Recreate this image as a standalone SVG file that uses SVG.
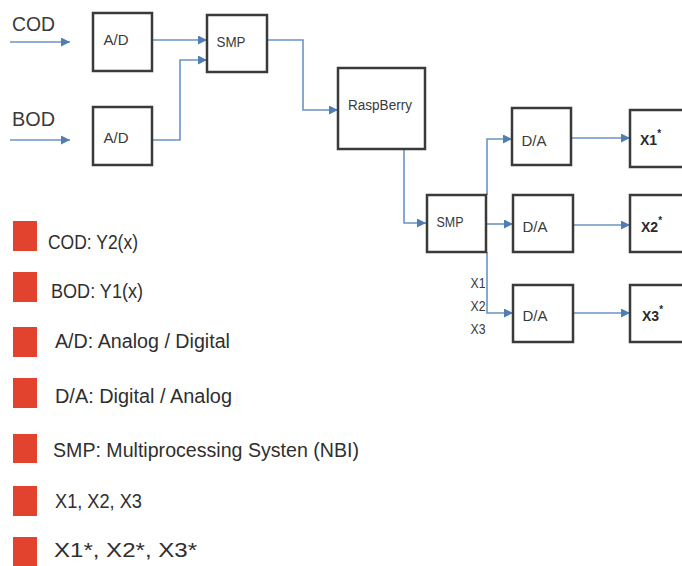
<svg xmlns="http://www.w3.org/2000/svg" width="682" height="566" viewBox="0 0 682 566">
<defs>
<marker id="ah" viewBox="0 0 10 10" refX="10" refY="5" markerWidth="9" markerHeight="9" markerUnits="userSpaceOnUse" orient="auto">
<path d="M0,0 L10,5 L0,10 z" fill="#4f7db4"/>
</marker>
<style>
.box{fill:#fff;stroke:#3a3a3a;stroke-width:2.5}
.lbl{font-family:"Liberation Sans",Arial,sans-serif;font-size:14px;fill:#3a3a3a;text-anchor:middle;dominant-baseline:central}
.xl{font-family:"Liberation Sans",Arial,sans-serif;font-size:14px;font-weight:bold;fill:#2a2a2a;dominant-baseline:central}
.in{font-family:"Liberation Sans",Arial,sans-serif;font-size:20px;fill:#3a3a3a}
.leg{font-family:"Liberation Sans",Arial,sans-serif;font-size:20px;fill:#2f2f2f}
.sq{fill:#e2432f}
.con{fill:none;stroke:#6a93c4;stroke-width:1.6;marker-end:url(#ah)}
.sm{font-family:"Liberation Sans",Arial,sans-serif;font-size:14px;fill:#3a3a3a;text-anchor:middle;dominant-baseline:central}
</style>
</defs>
<rect width="682" height="566" fill="#fff"/>

<g id="inputs">
<text class="in" x="12" y="31" textLength="43" lengthAdjust="spacingAndGlyphs">COD</text>
<text class="in" x="12" y="126" textLength="43" lengthAdjust="spacingAndGlyphs">BOD</text>
</g>

<g id="connectors">
<path class="con" d="M10,42 H70"/>
<path class="con" d="M10,140 H70"/>
<path class="con" d="M152,40 H207"/>
<path class="con" d="M152,140 H180 V60 H207"/>
<path class="con" d="M267,40 H303 V110 H338"/>
<path class="con" d="M404,149 V223 H426"/>
<path class="con" d="M487,195 V139 H512"/>
<path class="con" d="M486,224 H513"/>
<path class="con" d="M487,252 V313 H513"/>
<path class="con" d="M571,138 H630"/>
<path class="con" d="M573,225 H630"/>
<path class="con" d="M573,313 H630"/>
</g>

<g id="ad1"><rect class="box" x="93" y="13" width="59" height="58"/><text class="lbl" x="116" y="40" textLength="25" lengthAdjust="spacingAndGlyphs">A/D</text></g>
<g id="ad2"><rect class="box" x="93" y="107" width="59" height="58"/><text class="lbl" x="116" y="138" textLength="25" lengthAdjust="spacingAndGlyphs">A/D</text></g>
<g id="smp1"><rect class="box" x="207" y="15" width="60" height="57"/><text class="lbl" x="231" y="42" textLength="29" lengthAdjust="spacingAndGlyphs">SMP</text></g>
<g id="raspberry"><rect class="box" x="338" y="68" width="87" height="81"/><text class="lbl" x="380" y="105" textLength="64" lengthAdjust="spacingAndGlyphs">RaspBerry</text></g>
<g id="smp2"><rect class="box" x="427" y="195" width="59" height="57"/><text class="lbl" x="450" y="222" textLength="27" lengthAdjust="spacingAndGlyphs">SMP</text></g>
<g id="da1"><rect class="box" x="512" y="108" width="59" height="57"/><text class="lbl" x="534" y="141" textLength="25" lengthAdjust="spacingAndGlyphs">D/A</text></g>
<g id="da2"><rect class="box" x="513" y="195" width="60" height="57"/><text class="lbl" x="535" y="227" textLength="25" lengthAdjust="spacingAndGlyphs">D/A</text></g>
<g id="da3"><rect class="box" x="513" y="285" width="60" height="57"/><text class="lbl" x="535" y="316" textLength="25" lengthAdjust="spacingAndGlyphs">D/A</text></g>
<g id="x1s"><rect class="box" x="630" y="110" width="60" height="57"/><text class="xl" x="640" y="140">X1<tspan dy="-7" font-size="10">*</tspan></text></g>
<g id="x2s"><rect class="box" x="630" y="195" width="60" height="57"/><text class="xl" x="641" y="227">X2<tspan dy="-7" font-size="10">*</tspan></text></g>
<g id="x3s"><rect class="box" x="630" y="285" width="60" height="57"/><text class="xl" x="642" y="316">X3<tspan dy="-7" font-size="10">*</tspan></text></g>

<g id="xlabels">
<text class="sm" x="478" y="283" textLength="15" lengthAdjust="spacingAndGlyphs">X1</text>
<text class="sm" x="478" y="306" textLength="15" lengthAdjust="spacingAndGlyphs">X2</text>
<text class="sm" x="478" y="329" textLength="15" lengthAdjust="spacingAndGlyphs">X3</text>
</g>

<g id="legend">
<rect class="sq" x="13" y="221" width="24" height="30"/>
<rect class="sq" x="13" y="272" width="24" height="30"/>
<rect class="sq" x="13" y="327" width="24" height="30"/>
<rect class="sq" x="13" y="378" width="24" height="30"/>
<rect class="sq" x="13" y="434" width="24" height="29"/>
<rect class="sq" x="13" y="486" width="24" height="30"/>
<rect class="sq" x="13" y="537" width="24" height="30"/>
<text class="leg" x="48" y="249" textLength="90" lengthAdjust="spacingAndGlyphs">COD: Y2(x)</text>
<text class="leg" x="51" y="298" textLength="92" lengthAdjust="spacingAndGlyphs">BOD: Y1(x)</text>
<text class="leg" x="55" y="348" textLength="175" lengthAdjust="spacingAndGlyphs">A/D: Analog / Digital</text>
<text class="leg" x="55" y="403" textLength="177" lengthAdjust="spacingAndGlyphs">D/A: Digital / Analog</text>
<text class="leg" x="53" y="457" textLength="306" lengthAdjust="spacingAndGlyphs">SMP: Multiprocessing Systen (NBI)</text>
<text class="leg" x="55" y="508" textLength="87" lengthAdjust="spacingAndGlyphs">X1, X2, X3</text>
<text class="leg" x="54" y="557" textLength="143" lengthAdjust="spacingAndGlyphs">X1*, X2*, X3*</text>
</g>
</svg>
